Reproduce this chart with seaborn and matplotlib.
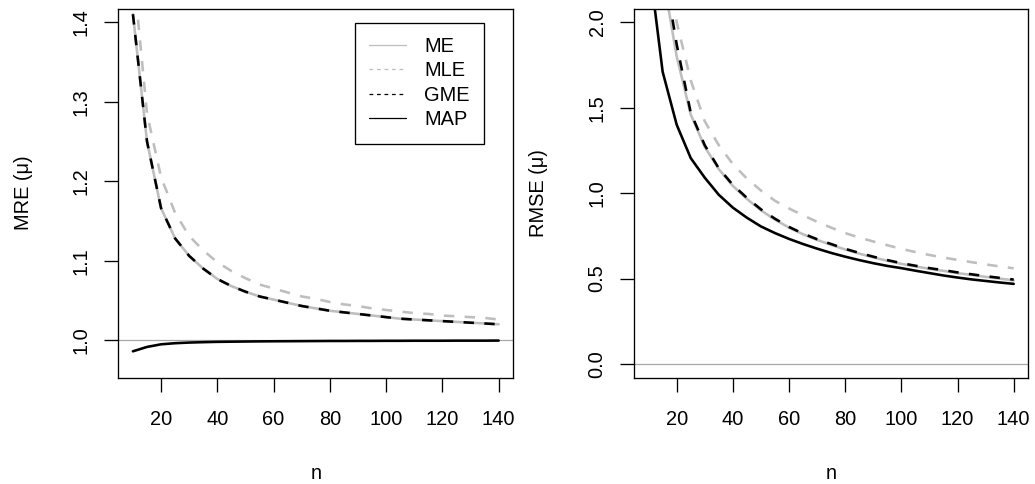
import matplotlib
matplotlib.use("Agg")
import matplotlib.pyplot as plt
import pandas as pd
import seaborn as sns
from matplotlib.lines import Line2D

# Sample sizes
n_values = [10, 15, 20, 25, 30, 35, 40, 45, 50, 55, 60, 65, 70, 75, 80,
            85, 90, 95, 100, 105, 110, 115, 120, 125, 130, 135, 140]

# Mean relative error of the mu estimates
mre_me = [1.410, 1.250, 1.166, 1.128, 1.106, 1.090, 1.077, 1.068, 1.061, 1.055,
          1.051, 1.047, 1.043, 1.040, 1.037, 1.035, 1.033, 1.031, 1.029, 1.027,
          1.026, 1.025, 1.024, 1.023, 1.022, 1.021, 1.020]
mre_mle = [1.470, 1.285, 1.205, 1.160, 1.131, 1.113, 1.098, 1.087, 1.078, 1.070,
           1.065, 1.060, 1.055, 1.052, 1.048, 1.045, 1.043, 1.040, 1.038, 1.036,
           1.034, 1.033, 1.031, 1.030, 1.029, 1.028, 1.026]
mre_gme = [1.410, 1.250, 1.166, 1.128, 1.106, 1.090, 1.077, 1.068, 1.061, 1.055,
           1.051, 1.047, 1.043, 1.040, 1.037, 1.035, 1.033, 1.031, 1.029, 1.027,
           1.026, 1.025, 1.024, 1.023, 1.022, 1.021, 1.020]
mre_map = [0.9860, 0.9915, 0.9948, 0.9962, 0.9970, 0.9975, 0.9979, 0.9981, 0.9983,
           0.9985, 0.9986, 0.9987, 0.9988, 0.9989, 0.9990, 0.9990, 0.9991, 0.9991,
           0.9992, 0.9992, 0.9993, 0.9993, 0.9993, 0.9994, 0.9994, 0.9994, 0.9995]

# Root mean squared error of the mu estimates
rmse_me = [3.40, 2.28, 1.80, 1.46, 1.27, 1.14, 1.042, 0.966, 0.899, 0.845,
           0.798, 0.759, 0.726, 0.697, 0.670, 0.646, 0.624, 0.604, 0.586, 0.571,
           0.557, 0.545, 0.532, 0.521, 0.510, 0.500, 0.489]
rmse_mle = [3.80, 2.40, 2.00, 1.66, 1.42, 1.28, 1.17, 1.085, 1.015, 0.955,
            0.910, 0.870, 0.832, 0.798, 0.766, 0.740, 0.717, 0.695, 0.674, 0.655,
            0.638, 0.623, 0.609, 0.596, 0.583, 0.571, 0.560]
rmse_gme = [3.60, 2.36, 1.87, 1.47, 1.28, 1.145, 1.048, 0.972, 0.905, 0.850,
            0.802, 0.763, 0.730, 0.702, 0.674, 0.650, 0.628, 0.608, 0.590, 0.575,
            0.561, 0.549, 0.536, 0.525, 0.514, 0.504, 0.494]
rmse_map = [2.37, 1.71, 1.40, 1.205, 1.09, 0.99, 0.915, 0.856, 0.805, 0.766,
            0.732, 0.702, 0.675, 0.650, 0.628, 0.608, 0.590, 0.574, 0.561, 0.546,
            0.532, 0.518, 0.506, 0.495, 0.486, 0.477, 0.469]

estimators = ["ME", "MLE", "GME", "MAP"]
x_ticks = [20, 40, 60, 80, 100, 120, 140]
mre_ticks = [1.0, 1.1, 1.2, 1.3, 1.4]
mre_tick_labels = ["1.0", "1.1", "1.2", "1.3", "1.4"]
rmse_ticks = [0.0, 0.5, 1.0, 1.5, 2.0]
rmse_tick_labels = ["0.0", "0.5", "1.0", "1.5", "2.0"]

palette = {"ME": "#BEBEBE", "MLE": "#BEBEBE", "GME": "black", "MAP": "black"}
dash_styles = {"ME": "", "MLE": (4, 4), "GME": (4, 4), "MAP": ""}


def long_frame(series):
    rows = []
    for name, values in zip(estimators, series):
        for n, v in zip(n_values, values):
            rows.append({"n": n, "value": v, "estimator": name})
    return pd.DataFrame(rows)


mre_df = long_frame([mre_me, mre_mle, mre_gme, mre_map])
rmse_df = long_frame([rmse_me, rmse_mle, rmse_gme, rmse_map])

sns.set_style("ticks")
plt.rcParams.update({
    "font.family": ["Liberation Sans", "DejaVu Sans"],
    "font.size": 14.4,
    "axes.edgecolor": "black",
    "axes.linewidth": 0.95,
    "axes.labelcolor": "black",
    "text.color": "black",
    "xtick.color": "black",
    "ytick.color": "black",
    "xtick.major.size": 10,
    "ytick.major.size": 10,
    "xtick.major.width": 0.95,
    "ytick.major.width": 0.95,
    "xtick.labelsize": 14.4,
    "ytick.labelsize": 14.4,
    "axes.labelsize": 14.4,
})

W, H = 1035, 484
fig = plt.figure(figsize=(W / 100, H / 100), dpi=100)
top_px, bottom_px = 8.5, 377.7
ax1 = fig.add_axes([118.3 / W, 1 - bottom_px / H, 395.0 / W, (bottom_px - top_px) / H])
ax2 = fig.add_axes([634.0 / W, 1 - bottom_px / H, 394.3 / W, (bottom_px - top_px) / H])


def r_limits(lo, hi):
    pad = 0.04 * (hi - lo)
    return lo - pad, hi + pad


def draw_panel(ax, frame, ylo, yhi, yticks, ylabels, ylabel, ref_level):
    ax.axhline(ref_level, color="#A8A8A8", lw=0.9, zorder=1)
    sns.lineplot(data=frame, x="n", y="value", hue="estimator", style="estimator",
                 hue_order=estimators, style_order=estimators, palette=palette,
                 dashes=dash_styles, linewidth=1.87, legend=False, errorbar=None,
                 ax=ax, zorder=2)
    ax.set_xlim(*r_limits(10, 140))
    ax.set_ylim(*r_limits(ylo, yhi))
    ax.set_xticks(x_ticks)
    ax.set_xticklabels([str(t) for t in x_ticks])
    ax.set_yticks(yticks)
    ax.set_yticklabels(ylabels)
    for lab in ax.get_yticklabels():
        lab.set_rotation(90)
        lab.set_ha("center")
        lab.set_va("center")
    for lab in ax.get_xticklabels():
        lab.set_va("center")
    ax.tick_params(axis="y", pad=16.5)
    ax.tick_params(axis="x", pad=19.8)
    ax.set_xlabel("n")
    ax.set_ylabel(ylabel)
    ax.xaxis.set_label_coords(0.5, -0.2595)
    ax.xaxis.label.set_va("center")
    ax.yaxis.set_label_coords(-0.241, 0.5)
    ax.yaxis.label.set_va("center")
    for sp in ax.spines.values():
        sp.set_visible(True)
        sp.set_zorder(5)


draw_panel(ax1, mre_df, 0.97, 1.40, mre_ticks, mre_tick_labels, "MRE (μ)", 1.0)
draw_panel(ax2, rmse_df, 0.0, 2.0, rmse_ticks, rmse_tick_labels, "RMSE (μ)", 0.0)

handles = [Line2D([], [], color=palette[e], lw=0.9,
                  linestyle=("-" if dash_styles[e] == "" else (0, (3, 3))))
           for e in estimators]
leg = ax1.legend(handles, estimators, loc="upper right",
                 bbox_to_anchor=(0.9266, 0.962), borderaxespad=0,
                 frameon=True, fancybox=False, edgecolor="black", framealpha=1,
                 handlelength=1.85, handletextpad=0.9, labelspacing=0.27,
                 borderpad=0.72)
leg.get_frame().set_linewidth(0.95)

fig.savefig("out.png", dpi=100)
